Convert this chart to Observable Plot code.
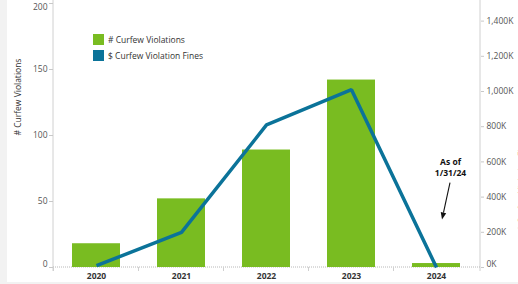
<!DOCTYPE html>
<html>
<head>
<meta charset="utf-8">
<script src="https://cdn.jsdelivr.net/npm/d3@7"></script>
<script src="https://cdn.jsdelivr.net/npm/@observablehq/plot@0.6"></script>
<style>
  html, body { margin: 0; padding: 0; background: #f2f2f2; overflow: hidden; }
  #wrap { position: absolute; left: 7px; top: 0; width: 511px; height: 282px; background: #fff; }
  #wrap svg { overflow: hidden; }
  .legend { position: absolute; left: 86px; top: 34px; font: 8.5px "Open Sans", sans-serif; color: #333; }
  .legend div { display: flex; align-items: center; height: 11px; margin-bottom: 5px; }
  .legend span.sw { display: inline-block; width: 11px; height: 11px; margin-right: 4px; }
</style>
</head>
<body>
<div id="wrap"></div>
<script>
// ---- data ----
const years = ["2020", "2021", "2022", "2023", "2024"];
const violations = [18, 52, 89, 142, 3];
const fines = [10000, 200000, 810000, 1010000, 0];
const leftTicks = [0, 50, 100, 150, 200];
const rightTicks = [0, 200000, 400000, 600000, 800000, 1000000, 1200000, 1400000];
const leftTitle = "# Curfew Violations";
const rightTitle = "$ Curfew Violation Fines";
const seriesNames = ["# Curfew Violations", "$ Curfew Violation Fines"];
const noteYear = "2024";
const noteText = "As of\n1/31/24";
const noteLevels = {text: 76, arrowFrom: 64, arrowTo: 36}; // in left-axis units

// ---- styling ----
const GREEN = "#79bc21";
const BLUE = "#0b7399";
const RATIO = 1500000 / 200; // right axis max / left axis max
const FONT = "Open Sans, sans-serif";

const table = years.map((y, i) => ({year: y, count: violations[i], fine: fines[i], fineScaled: fines[i] / RATIO}));

const W = 511, H = 282;

// custom axis frame lines + band dividers
function frameLines(index, scales, values, dims) {
  const g = d3.create("svg:g");
  const x0 = dims.marginLeft, x1 = dims.width - dims.marginRight;
  const yb = dims.height - dims.marginBottom;
  const x = scales.x;
  const dom = x.domain ? x.domain() : years;
  const bw = x.bandwidth ? x.bandwidth() : 0;
  const step = x(years[1]) - x(years[0]);
  // vertical axis lines
  g.append("line").attr("x1", x0).attr("x2", x0).attr("y1", 0).attr("y2", yb + 4).attr("stroke", "#d0d0d0");
  g.append("line").attr("x1", x1).attr("x2", x1).attr("y1", 0).attr("y2", yb + 4).attr("stroke", "#d0d0d0");
  // baseline
  g.append("line").attr("x1", x0).attr("x2", x1).attr("y1", yb).attr("y2", yb)
    .attr("stroke", "#b8b8b8").attr("stroke-dasharray", "1,1");
  // band dividers
  years.forEach((d, i) => {
    const c = x(d) + bw / 2;
    const left = c - step / 2;
    g.append("line").attr("x1", left).attr("x2", left).attr("y1", yb).attr("y2", yb + 4).attr("stroke", "#d0d0d0");
  });
  return g.node();
}

// annotation arrow with filled head
function noteArrow(index, scales, values, dims) {
  const x = scales.x, y = scales.y;
  const c = x(noteYear) + (x.bandwidth ? x.bandwidth() : 0) / 2;
  const xs = c + 14, ys = y(noteLevels.arrowFrom);
  const xe = c + 6, ye = y(noteLevels.arrowTo);
  const ang = Math.atan2(ye - ys, xe - xs);
  const hl = 7, hw = 2.8;
  const bx = xe - hl * Math.cos(ang), by = ye - hl * Math.sin(ang);
  const g = d3.create("svg:g");
  g.append("line").attr("x1", xs).attr("y1", ys).attr("x2", bx).attr("y2", by)
    .attr("stroke", "#111").attr("stroke-width", 1.1);
  const p1 = [bx + hw * Math.sin(ang), by - hw * Math.cos(ang)];
  const p2 = [bx - hw * Math.sin(ang), by + hw * Math.cos(ang)];
  g.append("path").attr("d", `M${xe},${ye}L${p1}L${p2}Z`).attr("fill", "#111");
  return g.node();
}

const kfmt = d => d3.format(",")(Math.round(d * RATIO / 1000)) + "K";

const chart = Plot.plot({
  width: W,
  height: H,
  marginLeft: 46,
  marginRight: 38,
  marginTop: 3,
  marginBottom: 15,
  style: {fontFamily: FONT, fontSize: "8.5px", background: "white", overflow: "hidden"},
  x: {domain: years, paddingInner: 0.43, paddingOuter: 0.215, axis: null},
  y: {domain: [0, 200], axis: null},
  marks: [
    frameLines,
    Plot.barY(table, {x: "year", y: "count", fill: GREEN}),
    Plot.line(table, {x: "year", y: "fineScaled", stroke: BLUE, strokeWidth: 3.5, strokeLinejoin: "miter", strokeLinecap: "butt"}),
    // left axis
    Plot.axisY({anchor: "left", ticks: leftTicks, tickSize: 4, tickPadding: 2, stroke: "#c8c8c8", fill: "#555", label: null,
      tickFormat: d => (d === 0 || d === 200) ? "" : String(d)}),
    Plot.text(leftTicks.filter(d => d === 200), {y: d => d, text: d => String(d), frameAnchor: "left", dx: -6, dy: 4, textAnchor: "end", fill: "#555"}),
    Plot.text(leftTicks.filter(d => d === 0), {y: d => d, text: d => String(d), frameAnchor: "left", dx: -6, dy: -3, textAnchor: "end", fill: "#555"}),
    // right axis
    Plot.axisY({anchor: "right", ticks: rightTicks.map(v => v / RATIO), tickSize: 3, tickPadding: 3, stroke: "#c8c8c8", fill: "#555", label: null,
      tickFormat: d => d === 0 ? "" : kfmt(d)}),
    Plot.text(rightTicks.filter(v => v === 0), {y: v => v / RATIO, text: v => kfmt(v / RATIO), frameAnchor: "right", dx: 6, dy: -3, textAnchor: "start", fill: "#555"}),
    // x labels
    Plot.axisX({anchor: "bottom", tickSize: 0, tickPadding: 5, fill: "#333", fontWeight: "bold", label: null}),
    // axis titles
    Plot.text([leftTitle], {frameAnchor: "left", dx: -35, rotate: -90, fill: "#333"}),
    Plot.text([rightTitle], {frameAnchor: "right", dx: 42, rotate: -90, fill: "#555"}),
    // annotation
    Plot.text([noteText], {x: () => noteYear, y: () => noteLevels.text, dx: 14, text: d => d, fontWeight: "bold", fill: "#111", lineHeight: 1.25, lineAnchor: "middle"}),
    noteArrow
  ]
});

const wrap = document.getElementById("wrap");
wrap.appendChild(chart);

const legend = document.createElement("div");
legend.className = "legend";
legend.innerHTML = seriesNames.map((n, i) =>
  `<div><span class="sw" style="background:${i === 0 ? GREEN : BLUE}"></span>${n}</div>`).join("");
wrap.appendChild(legend);
</script>
</body>
</html>
